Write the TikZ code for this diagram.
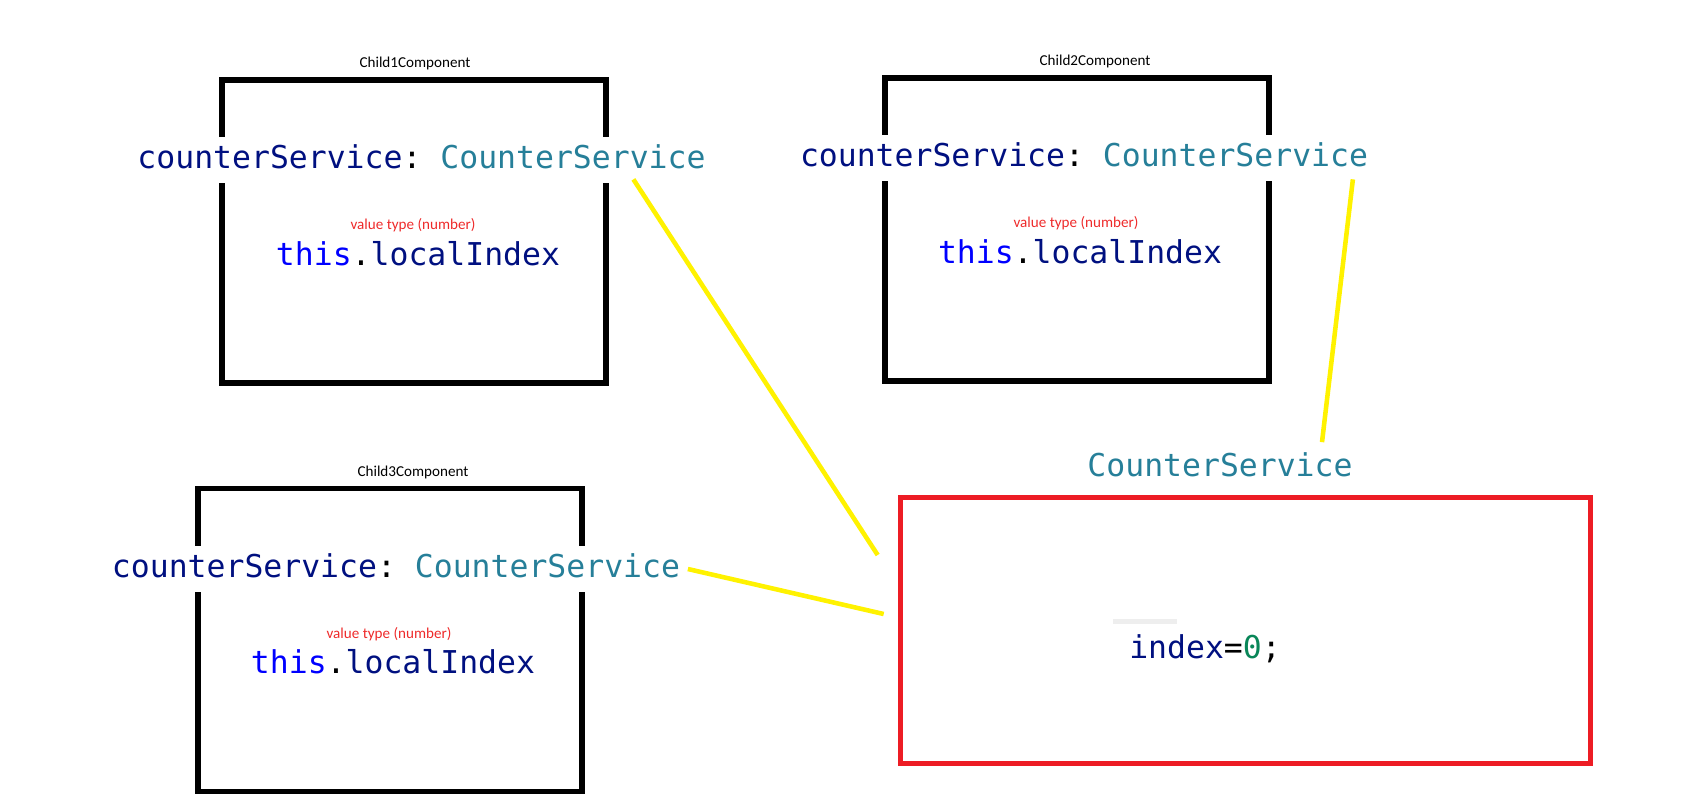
\documentclass[tikz,border=0pt]{standalone}
\usepackage{fontspec}
\setmainfont{Carlito}
\setmonofont{DejaVu Sans Mono}
\usepackage{xcolor}
\usepackage{tikz}
\usetikzlibrary{positioning, calc}

\definecolor{varnavy}{HTML}{001080}
\definecolor{typeteal}{HTML}{267F99}
\definecolor{kwblue}{HTML}{0000FF}
\definecolor{numgreen}{HTML}{098658}
\definecolor{notered}{HTML}{EE2A2A}
\definecolor{boxred}{HTML}{ED1C24}
\definecolor{linkyellow}{HTML}{FFF200}
\definecolor{caretgray}{HTML}{EEEEEE}

\newcommand{\svcdecl}{\textcolor{varnavy}{counterService}:\ \textcolor{typeteal}{CounterService}}
\newcommand{\localidx}{\textcolor{kwblue}{this}.\textcolor{varnavy}{localIndex}}

\begin{document}
\begin{tikzpicture}[
    x=0.02cm, y=-0.02cm,
    comp/.style={rectangle, draw=black, line width=3pt, minimum width=7.68cm, minimum height=6.06cm, inner sep=0pt},
    store/.style={rectangle, draw=boxred, line width=3pt, minimum width=13.81cm, minimum height=5.31cm, inner sep=0pt},
    tag/.style={font=\fontsize{8.6}{10}\selectfont, inner sep=0pt},
    note/.style={tag, text=notered},
    code/.style={font=\ttfamily\fontsize{17.9}{20}\selectfont, inner sep=0pt, anchor=base},
    decl/.style={code, fill=white, inner xsep=2pt, text height=0.62cm, text depth=0.3cm},
    link/.style={linkyellow, line width=2.6pt}
]
\useasboundingbox (0,0) rectangle (1682,798);

% Components
\node[comp] (child1) at (414,231.5) {};
\node[comp] (child2) at (1077,229.5) {};
\node[comp] (child3) at (390,640) {};
\node[store] (svc) at (1245.5,630.5) {};

% Titles
\node[tag] (title1) at (415,63) {Child1Component};
\node[tag] (title2) at (1095,61.5) {Child2Component};
\node[tag] (title3) at (413,472) {Child3Component};

% Injected service
\node[decl] (decl1) at (421.5,168) {\svcdecl};
\node[decl] (decl2) at (1084,166) {\svcdecl};
\node[decl] (decl3) at (396,577) {\svcdecl};

% Local values
\node[note] (note1) at (413,225) {value type (number)};
\node[note] (note2) at (1076,223) {value type (number)};
\node[note] (note3) at (389,634) {value type (number)};
\node[code] (local1) at (418,265) {\localidx};
\node[code] (local2) at (1080,263) {\localidx};
\node[code] (local3) at (393,673.5) {\localidx};

% Service instance
\node[code] (svcname) at (1220,476.5) {\textcolor{typeteal}{CounterService}};
\fill[caretgray] (1113,619) rectangle (1177,623.5);
\node[code] (index) at (1205,658) {\textcolor{varnavy}{index}=\textcolor{numgreen}{0};};

% Links
\draw[link] ($(decl1.south east)+(-76,-4)$) -- ($(svc.west)+(-20,-75.5)$);
\draw[link] ($(decl2.south east)+(-19,-2)$) -- ($(svc.north)+(76.5,-53)$);
\draw[link] ($(decl3.east)+(4,0)$) -- ($(svc.west)+(-14,-16.5)$);

\end{tikzpicture}
\end{document}
